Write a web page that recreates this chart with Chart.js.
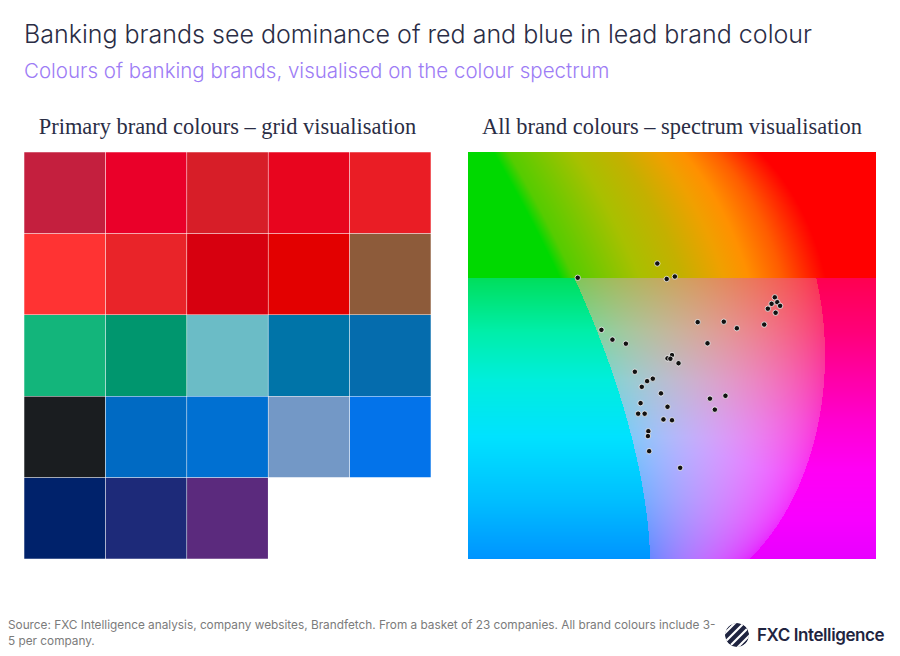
<!DOCTYPE html>
<html>
<head>
<meta charset="utf-8">
<script src="https://cdn.jsdelivr.net/npm/chart.js@4.4.0/dist/chart.umd.min.js"></script>
<style>
  html, body { margin: 0; padding: 0; }
  body { width: 900px; height: 656px; background: #ffffff; position: relative; overflow: hidden; font-family: Inter, "Noto Sans", sans-serif; }
  #title { position: absolute; left: 24px; top: 19px; font-size: 25px; font-weight: 300; color: #2a2d45; white-space: nowrap; }
  #subtitle { position: absolute; left: 24px; top: 58px; font-size: 20.5px; font-weight: 300; color: #9d7cf5; white-space: nowrap; }
  .ct { position: absolute; top: 114px; font-family: "Liberation Serif", "DejaVu Serif", serif; font-size: 22.4px; color: #2a2d45; text-align: center; white-space: nowrap; }
  #ctLeft { left: 24px; width: 407px; }
  #ctRight { left: 468px; width: 408px; }
  #gridbox { position: absolute; left: 24px; top: 152px; width: 407px; height: 407px; }
  #specbox { position: absolute; left: 468px; top: 152px; width: 408px; height: 407px; }
  #source { position: absolute; left: 8px; top: 617px; font-size: 11.8px; line-height: 16px; color: #7b7b7b; white-space: nowrap; }
  #logo { position: absolute; left: 724px; top: 622px; height: 26px; display: flex; align-items: center; white-space: nowrap; }
  #logo span { font-size: 17px; font-weight: 600; color: #1f2440; margin-left: 7px; letter-spacing: -0.4px; white-space: nowrap; }
</style>
</head>
<body>
<div id="title">Banking brands see dominance of red and blue in lead brand colour</div>
<div id="subtitle">Colours of banking brands, visualised on the colour spectrum</div>
<div class="ct" id="ctLeft">Primary brand colours – grid visualisation</div>
<div class="ct" id="ctRight">All brand colours – spectrum visualisation</div>
<div id="gridbox"><canvas id="gridChart"></canvas></div>
<div id="specbox"><canvas id="specChart"></canvas></div>
<div id="source">Source: FXC Intelligence analysis, company websites, Brandfetch. From a basket of 23 companies. All brand colours include 3-<br>5 per company.</div>
<div id="logo">
  <svg width="26" height="26" viewBox="0 0 26 26">
    <defs><clipPath id="lc"><circle cx="13" cy="13" r="12"/></clipPath></defs>
    <g clip-path="url(#lc)">
      <circle cx="13" cy="13" r="12" fill="#1f2440"/>
      <path d="M-2 14 L14 -2 M2 19 L19 2 M7 23 L23 7 M12 27 L27 12" stroke="#ffffff" stroke-width="2.2" fill="none"/>
    </g>
  </svg>
  <span>FXC Intelligence</span>
</div>

<script>
// ---------------- DATA ----------------
// Primary brand colours (grid, row by row, 5 per row)
const primaryColours = [
  '#c41f3e', '#ea0029', '#d71e28', '#e8051e', '#ea1d25',
  '#ff3333', '#e92429', '#d7000f', '#e30000', '#8d5b3a',
  '#13b57b', '#00966e', '#6bbcc6', '#0074a8', '#056cad',
  '#1a1d20', '#006ac3', '#0070d2', '#7398c6', '#0373ea',
  '#00226b', '#1d2a79', '#5b2a7d'
];
const gridColumns = ['1', '2', '3', '4', '5'];

// All brand colours, plotted on spectrum (x: left→right %, y: top→bottom %)
const spectrumX = [46.4, 26.9, 48.7, 50.7, 75.2, 74.4, 75.8, 76.5, 73.5, 75.4,
                   56.3, 62.7, 65.9, 72.6, 32.7, 35.4, 38.7, 58.7, 50.0, 48.9,
                   49.6, 51.6, 40.9, 45.3, 43.9, 42.6, 47.3, 59.3, 63.1, 42.3,
                   48.9, 60.5, 41.7, 43.3, 47.9, 50.0, 44.2, 44.1, 44.4, 52.0];
const spectrumY = [27.4, 30.9, 31.2, 30.6, 35.7, 37.3, 36.9, 37.8, 38.5, 39.5,
                   41.8, 41.7, 43.3, 42.4, 43.7, 46.1, 47.1, 47.0, 49.9, 50.7,
                   50.8, 51.9, 54.0, 55.7, 56.3, 57.7, 59.3, 60.6, 59.9, 61.7,
                   62.6, 63.3, 64.3, 64.3, 65.7, 65.9, 68.6, 69.8, 73.5, 77.6];

// ---------------- Spectrum background (decorative) ----------------
const SPLIT = 0.31;
const topLeftColour = '#00d900';
const topRightColour = '#ff0000';
const topInner = [[0, '#55cc00'], [0.27, '#a8c000'], [0.45, '#c4b000'], [0.62, '#f0a000'], [0.72, '#ff9000'], [0.86, '#ff5c00'], [1, '#ff1400']];
const leftStops = [[0.31, '#00de5c'], [0.44, '#00eea8'], [0.56, '#00eedc'], [0.70, '#00e2ff'], [0.85, '#00c0ff'], [1.0, '#0094ff']];
const rightStops = [[0.31, '#ff0050'], [0.44, '#ff0078'], [0.56, '#ff00a8'], [0.66, '#ff00d0'], [0.78, '#ff00f4'], [0.90, '#f800ff'], [1.0, '#e800ff']];

function lensLeftAt(v) { return 0.098 + 0.348 * (1 - Math.pow(1 - v, 1.7)); }
function lensRightAt(v) { const q = (v - 0.5) / 0.606; return 0.45 + 0.425 * Math.sqrt(Math.max(0, 1 - q * q)); }

function hexRgb(h) { return [parseInt(h.substr(1, 2), 16), parseInt(h.substr(3, 2), 16), parseInt(h.substr(5, 2), 16)]; }
function lerp(a, b, t) { return a + (b - a) * t; }
function colourAt(stops, v) {
  if (v <= stops[0][0]) return hexRgb(stops[0][1]);
  for (let i = 1; i < stops.length; i++) {
    if (v <= stops[i][0]) {
      const t = (v - stops[i - 1][0]) / (stops[i][0] - stops[i - 1][0]);
      const a = hexRgb(stops[i - 1][1]), b = hexRgb(stops[i][1]);
      return [lerp(a[0], b[0], t), lerp(a[1], b[1], t), lerp(a[2], b[2], t)];
    }
  }
  return hexRgb(stops[stops.length - 1][1]);
}
function toLin(c) { c /= 255; return c <= 0.04045 ? c / 12.92 : Math.pow((c + 0.055) / 1.055, 2.4); }
function fromLin(c) { c = c <= 0.0031308 ? 12.92 * c : 1.055 * Math.pow(Math.max(c, 0), 1 / 2.4) - 0.055; return Math.max(0, Math.min(255, Math.round(c * 255))); }
function rgbLab(rgb) {
  const r = toLin(rgb[0]), g = toLin(rgb[1]), b = toLin(rgb[2]);
  const X = (0.4124 * r + 0.3576 * g + 0.1805 * b) / 0.95047;
  const Y = (0.2126 * r + 0.7152 * g + 0.0722 * b);
  const Z = (0.0193 * r + 0.1192 * g + 0.9505 * b) / 1.08883;
  const f = t => t > 0.008856 ? Math.cbrt(t) : 7.787 * t + 16 / 116;
  const fx = f(X), fy = f(Y), fz = f(Z);
  return [116 * fy - 16, 500 * (fx - fy), 200 * (fy - fz)];
}
function labRgb(lab) {
  const fy = (lab[0] + 16) / 116, fx = fy + lab[1] / 500, fz = fy - lab[2] / 200;
  const fi = t => { const t3 = t * t * t; return t3 > 0.008856 ? t3 : (t - 16 / 116) / 7.787; };
  const X = 0.95047 * fi(fx), Y = fi(fy), Z = 1.08883 * fi(fz);
  return [fromLin(3.2406 * X - 1.5372 * Y - 0.4986 * Z), fromLin(-0.9689 * X + 1.8758 * Y + 0.0415 * Z), fromLin(0.0557 * X - 0.2040 * Y + 1.0570 * Z)];
}

let spectrumCanvas = null;
function buildSpectrum(w, h) {
  const c = document.createElement('canvas');
  c.width = w; c.height = h;
  const ctx = c.getContext('2d');
  const img = ctx.createImageData(w, h);
  const d = img.data;
  for (let y = 0; y < h; y++) {
    const v = (y + 0.5) / h;
    const xl = lensLeftAt(v), xr = lensRightAt(v);
    const top = v < SPLIT;
    let L, R, labL, labR;
    if (top) { L = hexRgb(topLeftColour); R = hexRgb(topRightColour); }
    else { L = colourAt(leftStops, v); R = colourAt(rightStops, v); labL = rgbLab(L); labR = rgbLab(R); }
    for (let x = 0; x < w; x++) {
      const u = (x + 0.5) / w;
      const s = (u - xl) / (xr - xl);
      let col;
      if (top) {
        if (s < -0.06) col = L;
        else if (s > 1.04) col = R;
        else if (s < 0) { const inn = colourAt(topInner, 0); const t = (s + 0.06) / 0.06; col = [lerp(L[0], inn[0], t), lerp(L[1], inn[1], t), lerp(L[2], inn[2], t)]; }
        else if (s > 1) { const inn = colourAt(topInner, 1); const t = (s - 1) / 0.04; col = [lerp(inn[0], R[0], t), lerp(inn[1], R[1], t), lerp(inn[2], R[2], t)]; }
        else col = colourAt(topInner, s);
      } else {
        if (s < 0) col = L;
        else if (s > 1) col = R;
        else {
          const t = 0.2 + 0.74 * s;
          col = labRgb([lerp(labL[0], labR[0], t) + 4 * Math.sin(Math.PI * s), lerp(labL[1], labR[1], t), lerp(labL[2], labR[2], t)]);
        }
      }
      const i = (y * w + x) * 4;
      d[i] = col[0]; d[i + 1] = col[1]; d[i + 2] = col[2]; d[i + 3] = 255;
    }
  }
  ctx.putImageData(img, 0, 0);
  return c;
}

const spectrumBackground = {
  id: 'spectrumBackground',
  beforeDatasetsDraw(chart) {
    const a = chart.chartArea;
    const w = Math.round(a.right - a.left), h = Math.round(a.bottom - a.top);
    if (!spectrumCanvas || spectrumCanvas.width !== w || spectrumCanvas.height !== h) spectrumCanvas = buildSpectrum(w, h);
    chart.ctx.drawImage(spectrumCanvas, a.left, a.top, a.right - a.left, a.bottom - a.top);
  }
};

// ---------------- Grid chart ----------------
const rows = Math.ceil(primaryColours.length / gridColumns.length);
const gridDatasets = [];
for (let r = 0; r < rows; r++) {
  const data = [], colors = [];
  for (let c = 0; c < gridColumns.length; c++) {
    const idx = r * gridColumns.length + c;
    data.push(idx < primaryColours.length ? 1 : null);
    colors.push(idx < primaryColours.length ? primaryColours[idx] : 'rgba(0,0,0,0)');
  }
  gridDatasets.push({ data, backgroundColor: colors, borderColor: 'rgba(255,255,255,0.12)', borderWidth: 0.6, borderSkipped: false, barPercentage: 1, categoryPercentage: 1 });
}

new Chart(document.getElementById('gridChart'), {
  type: 'bar',
  data: { labels: gridColumns, datasets: gridDatasets },
  options: {
    responsive: true, maintainAspectRatio: false, animation: false,
    layout: { padding: 0, autoPadding: false },
    plugins: { legend: { display: false }, tooltip: { enabled: false } },
    scales: {
      x: { stacked: true, display: false, offset: true },
      y: { stacked: true, display: false, reverse: true, min: 0, max: rows }
    }
  }
});

// ---------------- Spectrum chart ----------------
const points = spectrumX.map((x, i) => ({ x, y: spectrumY[i] }));
new Chart(document.getElementById('specChart'), {
  type: 'scatter',
  data: { datasets: [{ data: points, backgroundColor: '#111111', borderColor: 'rgba(255,255,255,0.75)', borderWidth: 1, pointRadius: 2.7, pointHoverRadius: 2.7, clip: false }] },
  options: {
    responsive: true, maintainAspectRatio: false, animation: false,
    layout: { padding: 0, autoPadding: false },
    plugins: { legend: { display: false }, tooltip: { enabled: false } },
    scales: {
      x: { type: 'linear', min: 0, max: 100, display: false },
      y: { type: 'linear', min: 0, max: 100, reverse: true, display: false }
    }
  },
  plugins: [spectrumBackground]
});
</script>
</body>
</html>
